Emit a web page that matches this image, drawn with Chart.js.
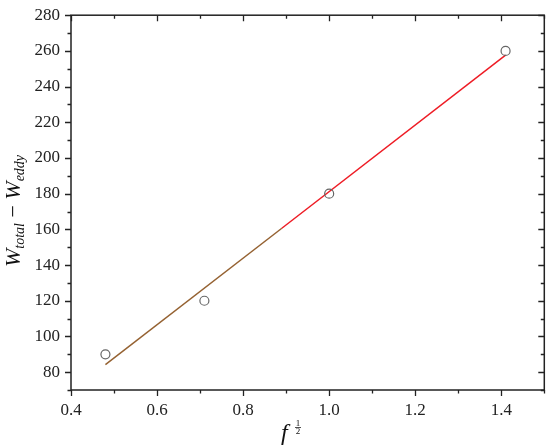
<!DOCTYPE html>
<html>
<head>
<meta charset="utf-8">
<script src="https://cdn.jsdelivr.net/npm/chart.js@4.4.0/dist/chart.umd.min.js"></script>
<style>
html, body { margin: 0; padding: 0; background: #fff; }
</style>
</head>
<body>
<canvas id="chart" width="550" height="448"></canvas>
<script>
// measured points
const xValues = [0.48, 0.71, 1.0, 1.41];
const yValues = [90, 120, 180, 260];
const xTickLabels = ['0.4', '0.6', '0.8', '1.0', '1.2', '1.4'];
const yTickLabels = ['80', '100', '120', '140', '160', '180', '200', '220', '240', '260', '280'];

// line changes colour here (brown -> red)
const colourBreak = 0.89;

// least squares fit of the points
const n = xValues.length;
const mx = xValues.reduce((a, b) => a + b, 0) / n;
const my = yValues.reduce((a, b) => a + b, 0) / n;
let sxy = 0, sxx = 0;
for (let i = 0; i < n; i++) {
    sxy += (xValues[i] - mx) * (yValues[i] - my);
    sxx += (xValues[i] - mx) ** 2;
}
const slope = sxy / sxx;
const intercept = my - slope * mx;
const fitX = [xValues[0], colourBreak, xValues[n - 1]];
const fitPoints = fitX.map(x => ({ x: x, y: intercept + slope * x }));

const serif = "'Liberation Serif', 'Times New Roman', serif";

const framePlugin = {
    id: 'frame',
    afterDraw(chart) {
        const { ctx, chartArea: a, scales: { x, y } } = chart;
        ctx.save();
        ctx.strokeStyle = '#222';
        ctx.lineWidth = 1.5;
        ctx.strokeRect(a.left, a.top, a.right - a.left, a.bottom - a.top);

        ctx.lineWidth = 1.3;
        ctx.beginPath();
        x.ticks.forEach(t => {
            const px = Math.round(x.getPixelForValue(t.value)) + 0.5;
            const len = t.label ? 6 : 3.5;
            ctx.moveTo(px, a.bottom); ctx.lineTo(px, a.bottom + len);
            ctx.moveTo(px, a.top); ctx.lineTo(px, a.top + len);
        });
        y.ticks.forEach(t => {
            const py = Math.round(y.getPixelForValue(t.value)) + 0.5;
            const len = t.label ? 6 : 3.5;
            ctx.moveTo(a.left - len, py); ctx.lineTo(a.left, py);
            ctx.moveTo(a.right - len, py); ctx.lineTo(a.right, py);
        });
        ctx.stroke();

        // y axis title
        ctx.fillStyle = '#111';
        ctx.textBaseline = 'alphabetic';
        const parts = [
            { t: 'W', f: 'italic 22px ' + serif, dy: 0 },
            { t: 'total', f: 'italic 14px ' + serif, dy: 4 },
            { t: ' \u2212 ', f: '22px ' + serif, dy: 0 },
            { t: 'W', f: 'italic 22px ' + serif, dy: 0 },
            { t: 'eddy', f: 'italic 14px ' + serif, dy: 4 }
        ];
        let total = 0;
        parts.forEach(p => { ctx.font = p.f; p.w = ctx.measureText(p.t).width; total += p.w; });
        ctx.translate(20, 211);
        ctx.rotate(-Math.PI / 2);
        let cx = -total / 2;
        parts.forEach(p => { ctx.font = p.f; ctx.fillText(p.t, cx, p.dy); cx += p.w; });
        ctx.setTransform(1, 0, 0, 1, 0, 0);

        // x axis title f^(1/2)
        ctx.font = 'italic 24px ' + serif;
        ctx.fillText('f', 281, 440);
        ctx.font = '9px ' + serif;
        ctx.textAlign = 'center';
        ctx.fillText('1', 298, 426);
        ctx.fillText('2', 298, 434);
        ctx.lineWidth = 0.8;
        ctx.beginPath();
        ctx.moveTo(295, 427.5); ctx.lineTo(301, 427.5);
        ctx.stroke();
        ctx.restore();
    }
};

const tickFont = { family: serif, size: 17 };

new Chart(document.getElementById('chart').getContext('2d'), {
    type: 'scatter',
    data: {
        datasets: [{
            label: 'data',
            data: xValues.map((x, i) => ({ x: x, y: yValues[i] })),
            pointStyle: 'circle',
            pointRadius: 4.5,
            pointBorderColor: '#666',
            pointBorderWidth: 1.2,
            pointBackgroundColor: 'rgba(0,0,0,0)',
            showLine: false,
            order: 1
        }, {
            label: 'fit',
            data: fitPoints,
            showLine: true,
            pointRadius: 0,
            borderWidth: 1.5,
            borderColor: '#ee1c25',
            segment: {
                borderColor: c => c.p0DataIndex === 0 ? '#956232' : '#ee1c25'
            },
            order: 2
        }]
    },
    options: {
        responsive: false,
        animation: false,
        devicePixelRatio: 1,
        layout: { padding: { top: 9, right: 5, left: 0, bottom: 0 } },
        plugins: { legend: { display: false }, tooltip: { enabled: false } },
        scales: {
            x: {
                type: 'linear',
                min: 0.4,
                max: 1.5,
                afterFit: s => { s.height = 58; },
                border: { display: false },
                grid: { drawOnChartArea: false, tickLength: 6, tickColor: 'rgba(0,0,0,0)' },
                ticks: {
                    stepSize: 0.1,
                    autoSkip: false,
                    maxRotation: 0,
                    padding: 4,
                    color: '#222',
                    font: tickFont,
                    callback: v => xTickLabels.includes(v.toFixed(1)) ? v.toFixed(1) : ''
                }
            },
            y: {
                min: 70,
                max: 280,
                afterFit: s => { s.width = 71; },
                border: { display: false },
                grid: { drawOnChartArea: false, tickLength: 6, tickColor: 'rgba(0,0,0,0)' },
                ticks: {
                    stepSize: 10,
                    autoSkip: false,
                    padding: 5,
                    color: '#222',
                    font: tickFont,
                    callback: v => yTickLabels.includes(String(Math.round(v))) ? String(Math.round(v)) : ''
                }
            }
        }
    },
    plugins: [framePlugin]
});
</script>
</body>
</html>
